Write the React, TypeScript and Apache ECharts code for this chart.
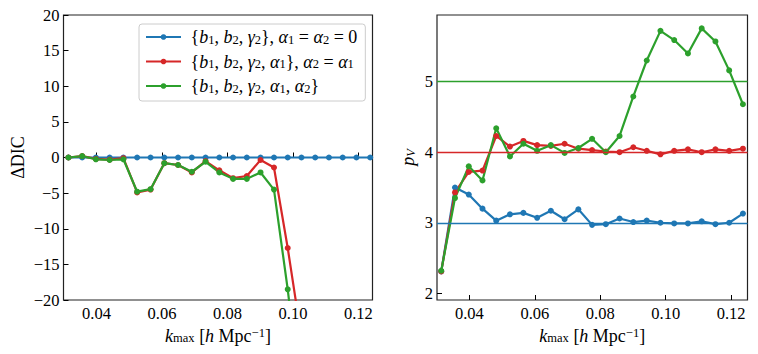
import React, { useEffect, useRef } from "react";
import * as echarts from "echarts";

const kmax = [0.0314, 0.0356, 0.0398, 0.044, 0.0482, 0.0524, 0.0565, 0.0607, 0.0649, 0.0691, 0.0733, 0.0775, 0.0817, 0.0859, 0.0901, 0.0942, 0.0984, 0.1026, 0.1068, 0.111, 0.1152, 0.1194, 0.1236];

const dicBlue = [0, 0, 0, 0, 0, 0, 0, 0, 0, 0, 0, 0, 0, 0, 0, 0, 0, 0, 0, 0, 0, 0, 0];
const dicRed = [0, 0.2, -0.2, -0.3, -0.1, -4.9, -4.5, -0.8, -1.05, -2.1, -0.5, -1.8, -2.9, -2.6, -0.35, -1.4, -12.7, -25.3, null, null, null, null, null];
const dicGreen = [0, 0.2, -0.25, -0.35, -0.25, -4.8, -4.45, -0.8, -1.05, -2.0, -0.6, -2.1, -3.0, -3.0, -2.1, -4.5, -18.5, -35, null, null, null, null, null];

const pvBlue = [2.31, 3.5, 3.4, 3.2, 3.03, 3.12, 3.14, 3.07, 3.17, 3.05, 3.19, 2.97, 2.98, 3.06, 3.01, 3.03, 3.0, 2.99, 2.99, 3.02, 2.98, 3.0, 3.13];
const pvRed = [2.31, 3.43, 3.72, 3.74, 4.23, 4.08, 4.16, 4.1, 4.09, 4.12, 4.05, 4.03, 4.01, 4.0, 4.07, 4.02, 3.97, 4.02, 4.04, 4.0, 4.04, 4.02, 4.05];
const pvGreen = [2.32, 3.35, 3.8, 3.6, 4.34, 3.94, 4.12, 4.02, 4.1, 3.99, 4.06, 4.19, 4.0, 4.23, 4.79, 5.3, 5.72, 5.59, 5.4, 5.755, 5.57, 5.16, 4.68];
const pvRef = [3, 4, 5];

const xTicks = [0.04, 0.06, 0.08, 0.1, 0.12];
const pvTicks = [2, 3, 4, 5];

const legendNames = ["case1", "case2", "case3"];
const legendLabels = [
  " {{i|b}{s|1}, {i|b}{s|2}, {i|γ}{s|2}}, {i|α}{s|1} = {i|α}{s|2} = 0",
  " {{i|b}{s|1}, {i|b}{s|2}, {i|γ}{s|2}, {i|α}{s|1}}, {i|α}{s|2} = {i|α}{s|1}",
  " {{i|b}{s|1}, {i|b}{s|2}, {i|γ}{s|2}, {i|α}{s|1}, {i|α}{s|2}}",
];

const colors = ["#1f77b4", "#d62728", "#2ca02c"];
const FONT = "'Liberation Serif', 'Times New Roman', serif";
const FS = 16.5;
const NFS = 18;

const toPts = (vals: (number | null)[]) =>
  kmax.map((k, i) => [k, vals[i]]).filter((p) => p[1] !== null);

const makeRich = (fs: number, sfs: number) => ({
  i: { fontStyle: "italic", fontSize: fs, fontFamily: FONT, lineHeight: 18, color: "#000" },
  s: { fontSize: sfs, fontFamily: FONT, lineHeight: 10, verticalAlign: "bottom", color: "#000" },
  si: { fontSize: sfs, fontStyle: "italic", fontFamily: FONT, lineHeight: 10, verticalAlign: "bottom", color: "#000" },
  u: { fontSize: sfs, fontFamily: FONT, lineHeight: 10, verticalAlign: "top", color: "#000" },
});

export default function App() {
  const ref = useRef<HTMLDivElement>(null);
  useEffect(() => {
    document.body.style.margin = "0";
    const chart = echarts.init(ref.current!, undefined, { renderer: "svg" });
    const labelStyle = { fontFamily: FONT, fontSize: FS, color: "#000" };
    const nameStyle = { fontFamily: FONT, fontSize: NFS, color: "#000", lineHeight: 18, rich: makeRich(NFS, 12.5) };
    const xAxisCommon = (min: number, max: number) => ({
      type: "value",
      min,
      max,
      axisLine: { show: false },
      splitLine: { show: false },
      axisTick: { show: true, inside: true, length: 5, customValues: xTicks, lineStyle: { color: "#000", width: 1 } },
      axisLabel: { ...labelStyle, margin: 5, customValues: xTicks, formatter: (v: number) => v.toFixed(2) },
      name: "{i|k}{s|max} [{i|h} Mpc{u|−1}]",
      nameLocation: "middle",
      nameGap: 19,
      nameTextStyle: nameStyle,
    });
    const lineSeries = (name: string, vals: (number | null)[], c: string, axis: number) => ({
      name,
      type: "line",
      xAxisIndex: axis,
      yAxisIndex: axis,
      data: toPts(vals),
      symbol: "circle",
      symbolSize: 6,
      showSymbol: true,
      clip: true,
      lineStyle: { color: c, width: 2.2 },
      itemStyle: { color: c },
    });
    chart.setOption({
      animation: false,
      grid: [
        { left: 63.5, top: 15, width: 309, height: 285, show: true, borderColor: "#222", borderWidth: 1.2 },
        { left: 437, top: 15, width: 310.5, height: 285, show: true, borderColor: "#222", borderWidth: 1.2 },
      ],
      xAxis: [
        { gridIndex: 0, ...xAxisCommon(0.0299, 0.1243) },
        { gridIndex: 1, ...xAxisCommon(0.0301, 0.125) },
      ],
      yAxis: [
        {
          gridIndex: 0,
          type: "value",
          min: -20,
          max: 20,
          interval: 5,
          axisLine: { show: false },
          splitLine: { show: false },
          axisTick: { show: true, inside: true, length: 5, lineStyle: { color: "#000", width: 1 } },
          axisLabel: { ...labelStyle, margin: 4, formatter: (v: number) => (v < 0 ? "−" + Math.abs(v) : String(v)) },
          name: "ΔDIC",
          nameLocation: "middle",
          nameGap: 37,
          nameTextStyle: { fontFamily: FONT, fontSize: NFS, color: "#000" },
        },
        {
          gridIndex: 1,
          type: "value",
          min: 1.905,
          max: 5.945,
          axisLine: { show: false },
          splitLine: { show: false },
          axisTick: { show: true, inside: true, length: 5, customValues: pvTicks, lineStyle: { color: "#000", width: 1 } },
          axisLabel: { ...labelStyle, margin: 4, customValues: pvTicks },
          name: "{i|p}{si|V}",
          nameLocation: "middle",
          nameGap: 20,
          nameTextStyle: nameStyle,
        },
      ],
      legend: {
        data: legendNames,
        orient: "vertical",
        left: 139,
        top: 24,
        padding: [4, 8, 6, 6],
        itemGap: 6.5,
        itemWidth: 35,
        itemHeight: 7,
        borderColor: "#cccccc",
        borderWidth: 1,
        borderRadius: 3,
        backgroundColor: "rgba(255,255,255,0.85)",
        formatter: (name: string) => legendLabels[legendNames.indexOf(name)],
        textStyle: { fontFamily: FONT, fontSize: 18, color: "#000", lineHeight: 18, rich: makeRich(18, 12.5) },
      },
      series: [
        lineSeries(legendNames[0], dicBlue, colors[0], 0),
        lineSeries(legendNames[1], dicRed, colors[1], 0),
        lineSeries(legendNames[2], dicGreen, colors[2], 0),
        ...[pvBlue, pvRed, pvGreen].map((vals, i) => ({
          ...lineSeries("pv" + i, vals, colors[i], 1),
          markLine: {
            silent: true,
            symbol: "none",
            label: { show: false },
            lineStyle: { color: colors[i], width: 1.3, type: "solid" },
            data: [{ yAxis: pvRef[i] }],
          },
        })),
      ],
    });
    return () => chart.dispose();
  }, []);
  return <div ref={ref} style={{ width: 758, height: 354 }} />;
}
